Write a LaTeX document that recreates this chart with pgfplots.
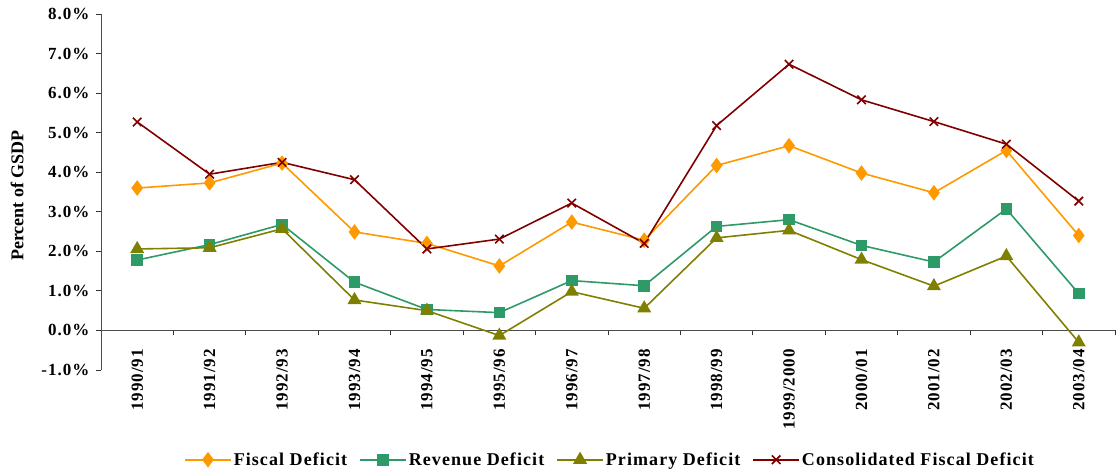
\documentclass[border=0pt]{standalone}
\usepackage{fontspec}
\setmainfont{Liberation Serif}
\newfontfamily\lsfont{Liberation Serif}[LetterSpace=6]
\usepackage{pgfplots}
\usepackage{pgfplotstable}
\pgfplotsset{compat=1.18}
\definecolor{cFis}{HTML}{FF9900}
\definecolor{cRev}{HTML}{2E9A68}
\definecolor{cPri}{HTML}{808000}
\definecolor{cCon}{HTML}{800000}
\pgfplotstableread{
x fis rev pri con
0 3.60 1.78 2.06 5.27
1 3.73 2.17 2.09 3.95
2 4.23 2.68 2.57 4.25
3 2.49 1.22 0.77 3.81
4 2.20 0.53 0.50 2.06
5 1.63 0.45 -0.13 2.31
6 2.74 1.26 0.98 3.22
7 2.28 1.13 0.56 2.20
8 4.17 2.63 2.34 5.18
9 4.67 2.80 2.53 6.73
10 3.98 2.15 1.79 5.83
11 3.48 1.73 1.12 5.28
12 4.55 3.07 1.88 4.71
13 2.40 0.93 -0.30 3.27
}\data
\begin{document}
\begin{tikzpicture}
\path[use as bounding box] (0,0) rectangle (1117pt,473pt);
\begin{axis}[
  at={(101pt,103pt)}, anchor=south west,
  width=1014pt, height=356pt, scale only axis,
  xmin=-0.5, xmax=13.5, ymin=-1, ymax=8,
  axis x line*=middle, axis y line*=left,
  axis line style={-, draw=black!70, line width=1pt},
  hide obscured x ticks=false, hide obscured y ticks=false,
  xtick={0,...,13},
  xticklabels={1990/91,1991/92,1992/93,1993/94,1994/95,1995/96,1996/97,1997/98,1998/99,1999/2000,2000/01,2001/02,2002/03,2003/04},
  minor xtick={-0.5,0.5,...,13.5},
  ytick={-1,0,...,8},
  minor ytick={-1,0,...,8},
  major tick length=0pt, minor tick length=5pt,
  tick align=outside,
  tick style={draw=black!80, line width=0.8pt},
  xticklabel style={rotate=90, anchor=east, font=\fontsize{17}{20}\lsfont\bfseries, xshift=-15pt},
  yticklabel={\pgfmathprintnumber[fixed,fixed zerofill,precision=1,assume math mode=true]{\tick}\%},
  yticklabel style={font=\fontsize{17}{20}\lsfont\bfseries, xshift=-8pt},
  ylabel={Percent of GSDP},
  ylabel style={at={(axis description cs:-0.0828,0.49)}, anchor=center, font=\fontsize{18}{20}\selectfont\bfseries},
  legend columns=4,
  legend style={draw=none, at={(0.502,-0.252)}, anchor=center, font=\fontsize{18}{20}\lsfont\bfseries,
    /tikz/every even column/.append style={column sep=10pt}},
  legend image code/.code={\draw[mark repeat=2,mark phase=2] plot coordinates {(0pt,0pt) (23pt,0pt) (46pt,0pt)};},
  every axis plot/.append style={line width=1.6pt},
  clip=false,
]
\addplot[cFis, mark=diamond*, mark size=6.5pt, mark options={solid}] table[x=x,y=fis] {\data};
\addlegendentry{Fiscal Deficit}
\addplot[cRev, mark=square*, mark size=5pt] table[x=x,y=rev] {\data};
\addlegendentry{Revenue Deficit}
\addplot[cPri, mark=triangle*, mark size=6.5pt] table[x=x,y=pri] {\data};
\addlegendentry{Primary Deficit}
\addplot[cCon, mark=x, mark size=6pt] table[x=x,y=con] {\data};
\addlegendentry{Consolidated Fiscal Deficit}
\end{axis}
\end{tikzpicture}
\end{document}
